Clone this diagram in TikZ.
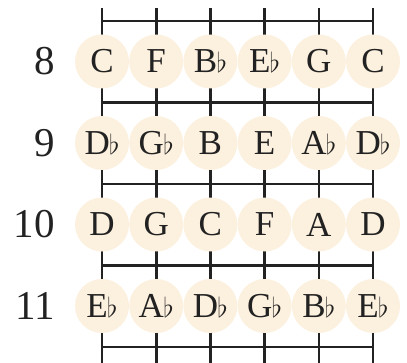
\documentclass[tikz,border=0pt]{standalone}
\usepackage{fontspec}
\setmainfont{Liberation Serif}
\definecolor{ink}{HTML}{222222}
\definecolor{cream}{HTML}{FCF0DE}
\newcommand\fl{\kern-0.02em\scalebox{1.1}{$\flat$}}
\begin{document}
\begin{tikzpicture}[x=1pt,y=1pt,
  stringline/.style={line width=2.6pt, draw=ink},
  fretline/.style={line width=2.4pt, draw=ink},
  note/.style={circle, fill=cream, minimum size=54pt, inner sep=0pt,
    font=\fontsize{35}{35}\selectfont, text=ink},
  fretnum/.style={anchor=east, inner sep=0pt, font=\fontsize{41}{41}\selectfont, text=ink}]
\useasboundingbox (0,0) rectangle (407,362);
% strings
\foreach \i in {0,...,5} {
  \coordinate (st\i) at (102+54.2*\i,354);
  \coordinate (sb\i) at (102+54.2*\i,-2);
  \draw[stringline] (st\i) -- (sb\i);
}
% frets
\foreach \j/\y in {0/341,1/259.5,2/178,3/96.5,4/15} {
  \coordinate (fl\j) at (102,\y);
  \coordinate (fr\j) at (373,\y);
  \draw[fretline] (fl\j) -- (fr\j);
}
% notes
\foreach \r/\y/\notes in {
  8/300.5/{C,F,B\fl,E\fl,G,C},
  9/219/{D\fl,G\fl,B,E,A\fl,D\fl},
  10/137.5/{D,G,C,F,A,D},
  11/56/{E\fl,A\fl,D\fl,G\fl,B\fl,E\fl}} {
  \node[fretnum] (num\r) at (55,\y) {\r};
  \foreach \n [count=\k from 0] in \notes {
    \node[note] (n\r-\k) at (102+54.2*\k,\y) {\n};
  }
}
\end{tikzpicture}
\end{document}
